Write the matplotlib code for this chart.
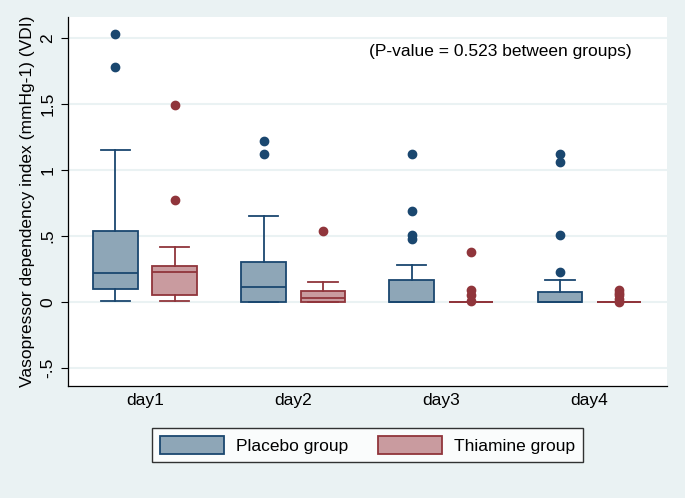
import matplotlib.pyplot as plt
from matplotlib.patches import Patch

plt.rcParams['font.family'] = ['Liberation Sans', 'DejaVu Sans']

days = ['day1', 'day2', 'day3', 'day4']

# box stats: (whislo, q1, med, q3, whishi)
placebo_box = [(0.01, 0.096, 0.22, 0.535, 1.15),
               (0.0, 0.0, 0.11, 0.305, 0.65),
               (0.0, 0.0, 0.0, 0.165, 0.28),
               (0.0, 0.0, 0.0, 0.075, 0.17)]
placebo_out = [[2.03, 1.78],
               [1.22, 1.12],
               [1.12, 0.69, 0.51, 0.48],
               [1.12, 1.06, 0.51, 0.23]]

thiamine_box = [(0.01, 0.053, 0.23, 0.275, 0.42),
                (0.0, 0.0, 0.03, 0.086, 0.15),
                (0.0, 0.0, 0.0, 0.0, 0.0),
                (0.0, 0.0, 0.0, 0.0, 0.0)]
thiamine_out = [[1.49, 0.77],
                [0.54],
                [0.38, 0.09, 0.05, 0.01],
                [0.09, 0.07, 0.05, 0.02, 0.0]]

BG = '#eaf2f3'
blue_edge, blue_fill = '#1a476f', '#8ea6b7'
red_edge, red_fill = '#90353b', '#c99b9f'
FS = 12.5


def make_stats(boxes, outs):
    stats = []
    for (lo, q1, med, q3, hi), fl in zip(boxes, outs):
        stats.append(dict(whislo=lo, q1=q1, med=med, q3=q3, whishi=hi, fliers=fl))
    return stats


fig = plt.figure(figsize=(6.85, 4.98), dpi=100, facecolor=BG)
ax = fig.add_axes([0.0993, 0.225, 0.875, 0.741])
ax.set_facecolor('white')

pos = list(range(1, len(days) + 1))
for stats, off, ec, fc in [(make_stats(placebo_box, placebo_out), -0.2, blue_edge, blue_fill),
                           (make_stats(thiamine_box, thiamine_out), 0.2, red_edge, red_fill)]:
    ax.bxp(stats, positions=[p + off for p in pos], widths=0.3, patch_artist=True,
           boxprops=dict(facecolor=fc, edgecolor=ec, linewidth=1.3),
           medianprops=dict(color=ec, linewidth=1.3),
           whiskerprops=dict(color=ec, linewidth=1.3),
           capprops=dict(color=ec, linewidth=1.3),
           capwidths=0.2,
           flierprops=dict(marker='o', markerfacecolor=ec, markeredgecolor=ec, markersize=6),
           zorder=3)

ax.set_xlim(0.48, 4.527)
ax.set_ylim(-0.636, 2.16)
ax.set_xticks(pos)
ax.set_xticklabels(days, fontsize=FS)
ax.tick_params(axis='x', length=0, pad=5)
yt = [-0.5, 0, 0.5, 1, 1.5, 2]
ax.set_yticks(yt)
ax.set_yticklabels(['-.5', '0', '.5', '1', '1.5', '2'], rotation=90, va='center', fontsize=FS)
ax.tick_params(axis='y', length=5, width=0.8, direction='out', pad=4)
ax.grid(axis='y', color=BG, linewidth=1.5, zorder=0)
ax.set_axisbelow(True)
for s in ['top', 'right']:
    ax.spines[s].set_visible(False)
for s in ['left', 'bottom']:
    ax.spines[s].set_linewidth(0.9)
ax.set_ylabel('Vasopressor dependency index (mmHg-1) (VDI)', fontsize=FS, labelpad=4)

ax.text(0.94, 0.905, '(P-value = 0.523 between groups)', transform=ax.transAxes,
        ha='right', va='center', fontsize=FS)

handles = [Patch(facecolor=blue_fill, edgecolor=blue_edge, linewidth=1.3, label='Placebo group'),
           Patch(facecolor=red_fill, edgecolor=red_edge, linewidth=1.3, label='Thiamine group')]
leg = fig.legend(handles=handles, loc='center', bbox_to_anchor=(0.5365, 0.106), ncol=2,
                 fontsize=FS, frameon=True, fancybox=False, edgecolor='black',
                 handlelength=3.7, handleheight=1.25, handletextpad=0.7,
                 columnspacing=1.7, borderpad=0.45, borderaxespad=0)
leg.get_frame().set_linewidth(1.0)

fig.savefig('out.png', dpi=100, facecolor=BG)
